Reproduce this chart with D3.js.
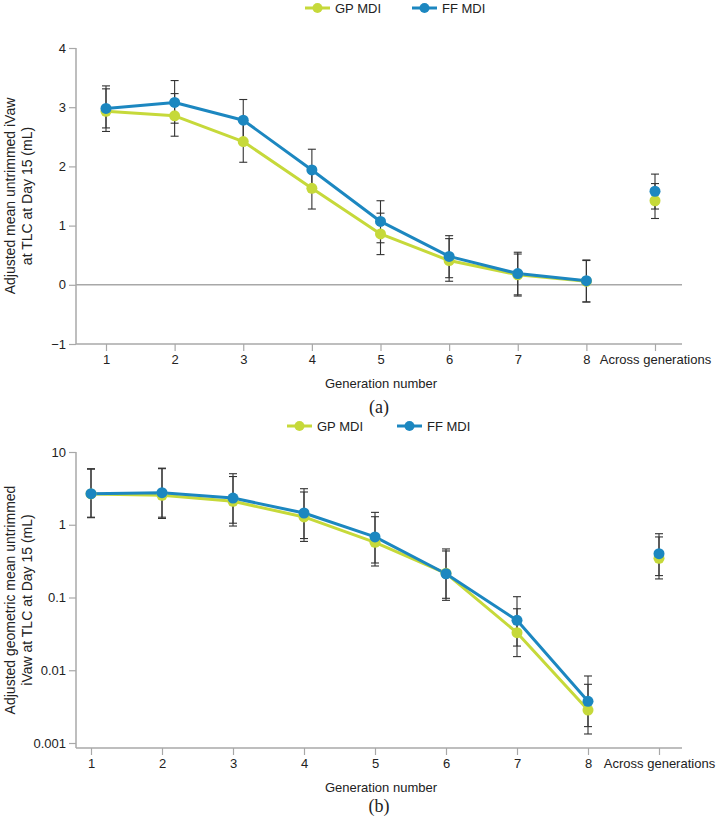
<!DOCTYPE html>
<html><head><meta charset="utf-8">
<script src="https://cdn.jsdelivr.net/npm/d3@7"></script>
<style>body{margin:0;background:#fff}svg{display:block}text{font-family:"Liberation Sans",Arial,sans-serif}</style>
</head><body><svg id="c" width="717" height="817"></svg>
<script>
const categories = ["1","2","3","4","5","6","7","8","Across generations"];
const seriesNames = ["GP MDI","FF MDI"];
// Panel (a): adjusted mean (mL)
const gpA   = [2.93, 2.855, 2.42, 1.63, 0.86, 0.41, 0.17, 0.06, 1.42];
const gpALo = [2.59, 2.51, 2.07, 1.28, 0.51, 0.06, -0.19, -0.29, 1.12];
const gpAHi = [3.31, 3.23, 2.78, 1.99, 1.21, 0.78, 0.52, 0.41, 1.71];
const ffA   = [2.98, 3.08, 2.78, 1.94, 1.07, 0.48, 0.19, 0.07, 1.58];
const ffALo = [2.65, 2.73, 2.42, 1.58, 0.71, 0.12, -0.17, -0.29, 1.28];
const ffAHi = [3.36, 3.45, 3.13, 2.29, 1.42, 0.83, 0.55, 0.42, 1.87];
const yTicksA = [-1, 0, 1, 2, 3, 4];
// Panel (b): adjusted geometric mean (mL), log scale
const gpB   = [2.65, 2.54, 2.10, 1.28, 0.574, 0.215, 0.0328, 0.00284, 0.345];
const gpBLo = [1.25, 1.22, 0.96, 0.59, 0.271, 0.0914, 0.0154, 0.00133, 0.18];
const gpBHi = [5.8, 5.9, 4.6, 2.82, 1.29, 0.436, 0.070, 0.00641, 0.68];
const ffB   = [2.67, 2.76, 2.33, 1.45, 0.68, 0.212, 0.0485, 0.00374, 0.40];
const ffBLo = [1.27, 1.27, 1.05, 0.646, 0.298, 0.0975, 0.0215, 0.00168, 0.20];
const ffBHi = [5.9, 6.0, 5.03, 3.13, 1.48, 0.465, 0.1026, 0.00834, 0.753];
const yTicksB = [0.001, 0.01, 0.1, 1, 10];
const yTickLabelsB = ["0.001","0.01","0.1","1","10"];

const GP = "#c6d93a", FF = "#1c87c0", AX = "#a8a8a8", EB = "#333";
const svg = d3.select("#c");

function legend(y, gx, fx) {
  [[gx, GP, seriesNames[0]], [fx, FF, seriesNames[1]]].forEach(([x, col, name]) => {
    svg.append("line").attr("x1", x).attr("x2", x + 25).attr("y1", y).attr("y2", y)
      .attr("stroke", col).attr("stroke-width", 3);
    svg.append("circle").attr("cx", x + 12.5).attr("cy", y).attr("r", 5).attr("fill", col);
    svg.append("text").attr("x", x + 30).attr("y", y).attr("dy", "0.35em")
      .attr("font-size", 13).attr("fill", "#222").text(name);
  });
}

function panel(o) {
  const g = svg.append("g");
  const idx = categories.map((d, i) => i);
  const x = d3.scaleLinear().domain([0, 8]).range([o.x0, o.x1]);
  const y = o.y;
  g.append("line").attr("x1", 76).attr("x2", 76).attr("y1", o.yTop).attr("y2", o.axisY)
    .attr("stroke", AX).attr("stroke-width", 1.5);
  g.append("line").attr("x1", 76).attr("x2", 682).attr("y1", o.axisY).attr("y2", o.axisY)
    .attr("stroke", AX).attr("stroke-width", 1.5);
  const ya = d3.axisLeft(y).tickValues(o.yTicks).tickSize(7).tickPadding(3)
    .tickFormat((d, i) => o.yLabels[i]);
  const yg = g.append("g").attr("transform", "translate(76,0)").call(ya);
  yg.select(".domain").remove();
  yg.selectAll(".tick line").attr("stroke", AX).attr("stroke-width", 1.2);
  yg.selectAll(".tick text").attr("font-size", 13).attr("fill", "#222")
    .attr("font-family", "Liberation Sans, Arial, sans-serif");
  const xa = d3.axisBottom(x).tickValues(idx).tickSize(7).tickPadding(4)
    .tickFormat(i => categories[i]);
  const xg = g.append("g").attr("transform", `translate(0,${o.axisY})`).call(xa);
  xg.select(".domain").remove();
  xg.selectAll(".tick line").attr("stroke", AX).attr("stroke-width", 1.2);
  xg.selectAll(".tick text").attr("font-size", 13).attr("fill", "#222")
    .attr("font-family", "Liberation Sans, Arial, sans-serif");
  if (o.zero) {
    g.append("line").attr("x1", 76).attr("x2", 682).attr("y1", y(0)).attr("y2", y(0))
      .attr("stroke", AX).attr("stroke-width", 1.5);
  }
  const series = [
    {v: o.gp, lo: o.gpLo, hi: o.gpHi, c: GP},
    {v: o.ff, lo: o.ffLo, hi: o.ffHi, c: FF}
  ];
  series.forEach(s => {
    g.append("path").datum(idx.slice(0, 8))
      .attr("d", d3.line().x(i => x(i)).y(i => y(s.v[i])))
      .attr("fill", "none").attr("stroke", s.c).attr("stroke-width", 3).attr("stroke-linejoin", "round");
  });
  series.forEach(s => {
    idx.forEach(i => {
      const xx = x(i);
      g.append("line").attr("x1", xx).attr("x2", xx).attr("y1", y(s.lo[i])).attr("y2", y(s.hi[i]))
        .attr("stroke", EB).attr("stroke-width", 1.1);
      [s.lo[i], s.hi[i]].forEach(v => {
        g.append("line").attr("x1", xx - 4).attr("x2", xx + 4).attr("y1", y(v)).attr("y2", y(v))
          .attr("stroke", EB).attr("stroke-width", 1.1);
      });
    });
  });
  series.forEach(s => {
    g.selectAll(null).data(idx).join("circle")
      .attr("cx", i => x(i)).attr("cy", i => y(s.v[i])).attr("r", 5.5).attr("fill", s.c);
  });
  const cy = (o.yTop + o.axisY) / 2;
  o.yTitle.forEach((t, k) => {
    g.append("text").attr("transform", `translate(${10 + k * 17},${cy}) rotate(-90)`)
      .attr("text-anchor", "middle").attr("dy", "0.35em").attr("font-size", 14).attr("fill", "#222").text(t);
  });
  g.append("text").attr("x", 381).attr("y", o.xTitleY).attr("dy", "0.35em").attr("text-anchor", "middle")
    .attr("font-size", 13).attr("fill", "#222").text("Generation number");
  g.append("text").attr("x", 379).attr("y", o.capY).attr("dy", "0.35em").attr("text-anchor", "middle")
    .attr("font-size", 18).attr("fill", "#222").style("font-family", "Liberation Serif, Times New Roman, serif")
    .text(o.cap);
}

legend(8, 305, 412);
panel({
  x0: 106, x1: 655,
  y: d3.scaleLinear().domain([-1, 4]).range([344, 48]),
  yTop: 48, axisY: 344, zero: true,
  yTicks: yTicksA, yLabels: yTicksA.map(d => d < 0 ? "\u2212" + Math.abs(d) : String(d)),
  gp: gpA, gpLo: gpALo, gpHi: gpAHi, ff: ffA, ffLo: ffALo, ffHi: ffAHi,
  yTitle: ["Adjusted mean untrimmed iVaw", "at TLC at Day 15 (mL)"],
  xTitleY: 383, cap: "(a)", capY: 407
});
legend(426, 287, 397);
panel({
  x0: 91, x1: 659,
  y: d3.scaleLog().domain([0.001, 10]).range([743, 452]),
  yTop: 452, axisY: 748, zero: false,
  yTicks: yTicksB, yLabels: yTickLabelsB,
  gp: gpB, gpLo: gpBLo, gpHi: gpBHi, ff: ffB, ffLo: ffBLo, ffHi: ffBHi,
  yTitle: ["Adjusted geometric mean untrimmed", "iVaw at TLC at Day 15 (mL)"],
  xTitleY: 787, cap: "(b)", capY: 806
});
</script></body></html>
